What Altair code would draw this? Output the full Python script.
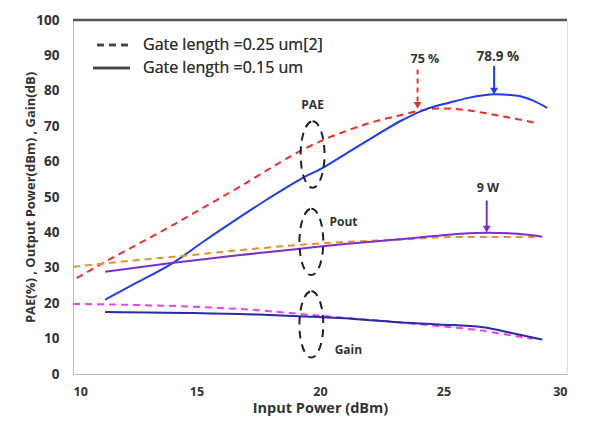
import altair as alt
import pandas as pd

# ---- data ----
x_pae25 = [10.15, 11.2, 12.5, 13.9, 15.4, 16.9, 18.1, 19.2, 20.3, 21.2, 22.3, 23.2, 23.9, 24.8, 25.6, 26.6, 27.6, 28.7]
pae25 = [27.1, 31.3, 36.2, 41.5, 47.5, 53.5, 58.6, 63.0, 66.6, 69.0, 71.5, 73.0, 74.2, 75.0, 74.8, 73.8, 72.5, 71.0]

x_pae15 = [11.3, 12.5, 14.05, 15.3, 16.6, 17.9, 19.2, 20.2, 21.2, 22.2, 23.24, 24.25, 25.26, 26.0, 27.1, 28.0, 28.6, 29.2]
pae15 = [21.0, 25.5, 31.4, 37.5, 43.6, 49.5, 55.0, 58.6, 62.9, 67.1, 71.4, 74.7, 76.7, 78.0, 79.0, 78.6, 77.3, 75.2]

x_pout25 = [10.0, 11.9, 13.9, 16.5, 19.2, 21.0, 23.0, 25.7, 27.5, 28.9]
pout25 = [30.3, 31.7, 33.0, 34.8, 36.5, 37.3, 37.9, 38.7, 38.7, 38.7]

x_pout15 = [11.3, 13.9, 16.5, 19.2, 21.0, 23.0, 24.5, 25.7, 26.8, 28.0, 29.0]
pout15 = [28.9, 31.3, 33.4, 35.4, 36.7, 37.9, 38.9, 39.6, 39.9, 39.6, 38.8]

x_gain25 = [10.0, 12.5, 14.9, 17.5, 19.6, 21.5, 23.0, 24.7, 26.4, 27.5, 28.6]
gain25 = [19.8, 19.5, 19.0, 18.0, 16.7, 15.6, 14.7, 13.6, 12.4, 11.2, 9.9]

x_gain15 = [11.3, 13.0, 14.9, 17.5, 19.6, 21.5, 23.0, 24.8, 26.6, 27.8, 29.0]
gain15 = [17.5, 17.4, 17.2, 16.8, 16.2, 15.5, 14.7, 14.0, 13.2, 11.5, 9.7]

x_ticks = [10, 15, 20, 25, 30]
y_ticks = [0, 10, 20, 30, 40, 50, 60, 70, 80, 90, 100]

# annotations: arrows (x, y_start, y_tip) and labels
arrow_x = [23.95, 27.05, 26.75]
arrow_y1 = [86.0, 87.0, 49.0]
arrow_y2 = [76.5, 80.5, 41.5]
arrow_colors = ["#e8302a", "#1f3cf0", "#7a2fd0"]
arrow_dash = [[5, 4], [1, 0], [1, 0]]
label_text = ["75 %", "78.9 %", "9 W"]
label_x = [24.25, 27.2, 26.8]
label_y = [89.0, 89.6, 52.5]
label_size = [12.5, 13.5, 12.5]

group_text = ["PAE", "Pout", "Gain"]
group_text_x = [19.7, 20.95, 21.15]
group_text_y = [76.0, 43.0, 6.8]
ellipse_x = [19.7, 19.65, 19.65]
ellipse_y = [62.0, 37.3, 14.0]

legend_labels = ["Gate length =0.25 um[2]", "Gate length =0.15 um"]

FONT = "Open Sans"
TXT = "#333333"

xs = alt.Scale(domain=[10, 30], nice=False, zero=False)
ys = alt.Scale(domain=[0, 100], nice=False)

X_AX = alt.Axis(values=x_ticks, title="Input Power (dBm)", grid=False, ticks=False,
                domainColor="#bbbbbb", labelFont=FONT, labelFontSize=12.5, labelFontWeight="bold",
                labelColor=TXT, labelPadding=11, labelOverlap=False, titleFont=FONT,
                titleFontSize=14.5, titleFontWeight="bold", titleColor=TXT, titlePadding=4)
Y_AX = alt.Axis(values=y_ticks, title="PAE(%) , Output Power(dBm) , Gain(dB)",
                grid=False, ticks=False, domainColor="#bbbbbb", labelFont=FONT, labelFontSize=13.5,
                labelFontWeight="bold", labelColor=TXT, labelPadding=14, labelOverlap=False,
                tickCount=11, titleFont=FONT, titleFontSize=13, titleFontWeight="bold",
                titleColor=TXT, titlePadding=-2)


def X(field="x"):
    return alt.X(f"{field}:Q", scale=xs, axis=X_AX)


def Y(field="y"):
    return alt.Y(f"{field}:Q", scale=ys, axis=Y_AX)


def line(xv, yv, color, dash):
    df = pd.DataFrame({"x": xv, "y": yv})
    kw = dict(color=color, strokeWidth=2, interpolate="monotone")
    if dash:
        kw["strokeDash"] = [7, 5]
    return alt.Chart(df).mark_line(**kw).encode(x=X(), y=Y())


layers = [
    line(x_pae25, pae25, "#e8302a", True),
    line(x_pae15, pae15, "#1f3cf0", False),
    line(x_pout25, pout25, "#e8922a", True),
    line(x_pout15, pout15, "#7a2fd0", False),
    line(x_gain25, gain25, "#f040ee", True),
    line(x_gain15, gain15, "#2a2aa8", False),
]

# top frame line
top_df = pd.DataFrame({"x": [10], "x2": [30], "y": [100]})
layers.append(alt.Chart(top_df).mark_rule(color="#555555", strokeWidth=2.5).encode(
    x=X(), x2="x2:Q", y=Y()))

# arrows
for i in range(3):
    adf = pd.DataFrame({"x": [arrow_x[i]], "y": [arrow_y1[i]], "y2": [arrow_y2[i]]})
    layers.append(alt.Chart(adf).mark_rule(color=arrow_colors[i], strokeWidth=2,
                                           strokeDash=arrow_dash[i]).encode(
        x=X(), y=Y(), y2="y2:Q"))
    hdf = pd.DataFrame({"x": [arrow_x[i]], "y": [arrow_y2[i] - 0.6]})
    layers.append(alt.Chart(hdf).mark_point(shape="triangle-down", filled=True, size=60,
                                            color=arrow_colors[i], opacity=1).encode(
        x=X(), y=Y()))

for i in range(3):
    ldf = pd.DataFrame({"x": [label_x[i]], "y": [label_y[i]], "t": [label_text[i]]})
    layers.append(alt.Chart(ldf).mark_text(font=FONT, fontSize=label_size[i], fontWeight="bold",
                                           color=TXT).encode(x=X(), y=Y(), text="t:N"))

grp_df = pd.DataFrame({"x": group_text_x, "y": group_text_y, "t": group_text})
layers.append(alt.Chart(grp_df).mark_text(font=FONT, fontSize=12, fontWeight="bold",
                                          color=TXT).encode(x=X(), y=Y(), text="t:N"))

# dashed ellipses
a, k = 0.36, 0.5523
ak = a * k
ell = (f"M0,-1 C{ak},-1 {a},-{k} {a},0 C{a},{k} {ak},1 0,1 "
       f"C-{ak},1 -{a},{k} -{a},0 C-{a},-{k} -{ak},-1 0,-1 Z")
ell_df = pd.DataFrame({"x": ellipse_x, "y": ellipse_y})
layers.append(alt.Chart(ell_df).mark_point(shape=ell, size=4400, filled=False, color="#222222",
                                           strokeWidth=2, strokeDash=[8, 6], opacity=1).encode(
    x=X(), y=Y()))

# legend (static)
leg_df = pd.DataFrame({"t": legend_labels})
layers.append(alt.Chart(leg_df).mark_rule(color="#444444", strokeWidth=2.5, strokeDash=[7, 5]).encode(
    x=alt.value(24), x2=alt.value(57), y=alt.value(25)))
layers.append(alt.Chart(leg_df).mark_rule(color="#444444", strokeWidth=2.5).encode(
    x=alt.value(20), x2=alt.value(57), y=alt.value(48)))
layers.append(alt.Chart(leg_df).mark_text(font=FONT, fontSize=16, color=TXT, align="left",
                                          baseline="middle").encode(
    x=alt.value(70), y=alt.value(25), text=alt.value(legend_labels[0])))
layers.append(alt.Chart(leg_df).mark_text(font=FONT, fontSize=16, color=TXT, align="left",
                                          baseline="middle").encode(
    x=alt.value(70), y=alt.value(48), text=alt.value(legend_labels[1])))

chart = alt.layer(*layers).properties(
    width=494, height=354,
    autosize=alt.AutoSizeParams(type="none"),
    padding={"left": 65, "top": 12, "right": 14, "bottom": 43},
).configure_view(stroke="#bbbbbb", strokeWidth=1.5).configure(background="white")

chart.save("out.html", embed_options={"renderer": "svg", "actions": False})
